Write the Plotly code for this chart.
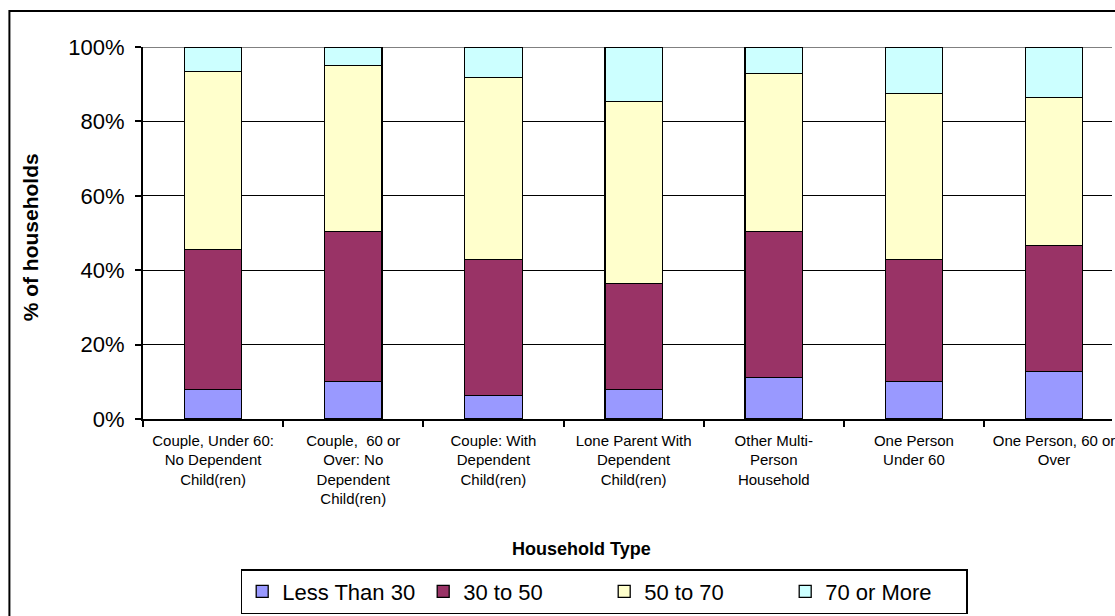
import plotly.graph_objects as go

categories = [
    "Couple, Under 60:<br>No Dependent<br>Child(ren)",
    "Couple,  60 or<br>Over: No<br>Dependent<br>Child(ren)",
    "Couple: With<br>Dependent<br>Child(ren)",
    "Lone Parent With<br>Dependent<br>Child(ren)",
    "Other Multi-<br>Person<br>Household",
    "One Person<br>Under 60",
    "One Person, 60 or<br>Over",
]
less_than_30 = [7.9, 10.0, 6.3, 7.9, 11.1, 10.0, 12.7]
from_30_to_50 = [37.6, 40.4, 36.5, 28.5, 39.3, 32.8, 33.9]
from_50_to_70 = [47.9, 44.6, 49.0, 48.9, 42.4, 44.7, 39.8]
seventy_or_more = [6.6, 5.0, 8.2, 14.7, 7.2, 12.5, 13.6]

series_names = ["Less Than 30", "30 to 50", "50 to 70", "70 or More"]
series_values = [less_than_30, from_30_to_50, from_50_to_70, seventy_or_more]
series_colors = ["#9999FF", "#993366", "#FFFFCC", "#CCFFFF"]

y_tick_values = [0, 20, 40, 60, 80, 100]
y_tick_labels = ["0%", "20%", "40%", "60%", "80%", "100%"]

FONT = "Liberation Sans, Arial, sans-serif"
W, H = 1115, 616
L, T, B = 143, 47, 197
plot_w = W - L
plot_h = H - T - B

fig = go.Figure()
for name, vals, col in zip(series_names, series_values, series_colors):
    fig.add_trace(go.Bar(
        x=categories, y=vals, name=name,
        marker=dict(color=col, line=dict(color="black", width=1.3)),
    ))

def px_x(p):
    return (p - L) / plot_w

def px_y(p):
    return (H - B - p) / plot_h

fig.update_layout(
    width=W, height=H,
    margin=dict(l=L, r=0, t=T, b=B, pad=0),
    barmode="stack",
    bargap=0.59,
    plot_bgcolor="white",
    paper_bgcolor="white",
    font=dict(family=FONT, color="black"),
    showlegend=True,
    legend=dict(
        orientation="h",
        x=px_x(241), xanchor="left",
        y=px_y(569), yanchor="top",
        bordercolor="black", borderwidth=1.5,
        font=dict(size=22, family=FONT),
        entrywidth=136,
        traceorder="normal",
        itemclick=False, itemdoubleclick=False,
    ),
    xaxis=dict(
        type="category",
        range=[-0.5, -0.5 + plot_w / 140.6],
        showline=True, linecolor="black", linewidth=1.5,
        ticks="outside", tickson="boundaries", ticklen=6, tickcolor="black", tickwidth=1.5,
        showgrid=False,
        tickfont=dict(size=15, family=FONT),
        ticklabelstandoff=7,
        fixedrange=True,
    ),
    yaxis=dict(
        range=[0, 100],
        tickmode="array",
        tickvals=y_tick_values,
        ticktext=y_tick_labels,
        showline=True, linecolor="black", linewidth=2,
        ticks="outside", ticklen=6, tickcolor="black", tickwidth=1.5,
        showgrid=True, gridcolor="black", gridwidth=1,
        zeroline=False,
        tickfont=dict(size=22, family=FONT),
        ticklabelstandoff=6,
        fixedrange=True,
    ),
    annotations=[
        dict(text="<b>% of households</b>", xref="paper", yref="paper",
             x=px_x(30), y=px_y(237), textangle=-90, showarrow=False,
             font=dict(size=21, family=FONT), xanchor="center", yanchor="middle"),
        dict(text="<b>Household Type</b>", xref="paper", yref="paper",
             x=px_x(583), y=px_y(549), showarrow=False,
             font=dict(size=18, family=FONT), xanchor="center", yanchor="middle"),
    ],
    shapes=[
        dict(type="line", xref="paper", yref="y", x0=0, x1=1, y0=100, y1=100,
             line=dict(color="#808080", width=2), layer="below"),
        dict(type="rect", xref="paper", yref="paper",
             x0=px_x(9), x1=px_x(W + 20), y0=px_y(H + 20), y1=px_y(11),
             line=dict(color="black", width=2), fillcolor="rgba(0,0,0,0)", layer="above"),
    ],
)

fig.write_html("out.html", config={"displayModeBar": False})
